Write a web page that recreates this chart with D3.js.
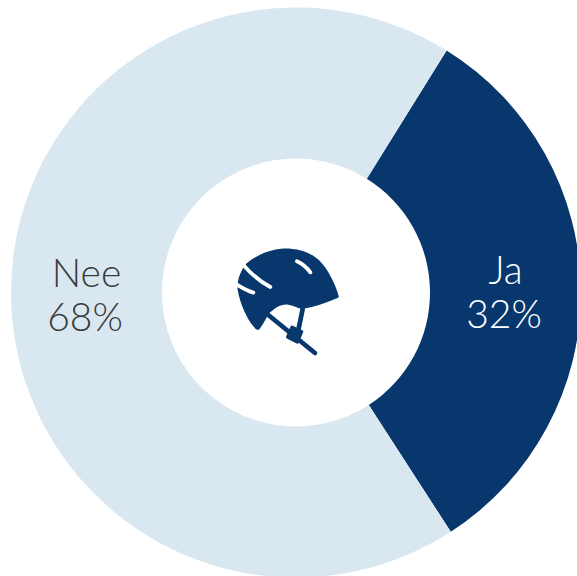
<!DOCTYPE html>
<html>
<head>
<meta charset="utf-8">
<script src="https://d3js.org/d3.v7.min.js"></script>
<style>
  html, body { margin: 0; padding: 0; background: #fff; overflow: hidden; }
  text { font-family: "Lato", sans-serif; font-weight: 300; font-size: 39px; }
</style>
</head>
<body>
<svg id="chart" width="577" height="576"></svg>
<script>
// Chart data
const categories = ["Ja", "Nee"];
const values = [32, 68];
const sliceColors = ["#07376c", "#d9e7f1"];
const labelColors = ["#ffffff", "#3a3a3a"];

const cx = 296;
const cy = 292.5;
const outerRadius = 285;
const innerRadius = 134;
const startAngle = (31.9 * Math.PI) / 180;

const svg = d3.select("#chart");
const g = svg.append("g").attr("transform", `translate(${cx},${cy})`);

const pie = d3
  .pie()
  .sort(null)
  .startAngle(startAngle)
  .endAngle(startAngle + 2 * Math.PI);

const arc = d3.arc().innerRadius(innerRadius).outerRadius(outerRadius);
const slices = pie(values);

g.selectAll("path.slice")
  .data(slices)
  .enter()
  .append("path")
  .attr("class", "slice")
  .attr("d", arc)
  .attr("fill", (d, i) => sliceColors[i]);

// Labels sit in the ring, two lines each
const labelArc = d3.arc().innerRadius(209.5).outerRadius(209.5);

const labels = g
  .selectAll("g.label")
  .data(slices)
  .enter()
  .append("g")
  .attr("class", "label")
  .attr("transform", (d) => {
    const c = labelArc.centroid(d);
    return `translate(${c[0]},${c[1]})`;
  })
  .attr("fill", (d, i) => labelColors[i])
  .attr("text-anchor", "middle");

labels.append("text").attr("y", -7).text((d, i) => categories[i]);
labels.append("text").attr("x", -1.5).attr("y", 37).text((d) => `${d.data}%`);

// Helmet icon in the middle
const icon = svg.append("g").attr("transform", "translate(220,235) scale(0.3333)");
const navy = sliceColors[0];

icon
  .append("path")
  .attr("d", "M80,85 C115,55 165,38 212,41 C262,44 300,68 325,112 C340,138 350,160 356,183 C357,188 352,190 345,192 C315,205 285,215 250,221 C235,222 225,212 205,209 C182,207 165,218 145,238 C135,258 125,275 117,284 C112,286 106,282 100,274 C80,250 60,205 53,165 C50,140 60,108 80,85 Z")
  .attr("fill", navy);

// Chin strap and buckle
icon
  .append("path")
  .attr("d", "M145,240 L285,354 M248,222 L232,300")
  .attr("fill", "none")
  .attr("stroke", navy)
  .attr("stroke-width", 14)
  .attr("stroke-linecap", "round");

icon
  .append("path")
  .attr("d", "M203,306 L216,277 L245,290 L232,321 Z")
  .attr("fill", navy)
  .attr("stroke", navy)
  .attr("stroke-width", 10)
  .attr("stroke-linejoin", "round");

// Vent highlights
icon
  .append("path")
  .attr("d", "M72,92 C95,118 120,140 151,156 M52,150 C68,160 82,168 100,173 M231,79 C246,86 260,97 271,112")
  .attr("fill", "none")
  .attr("stroke", "#fff")
  .attr("stroke-width", 11.5)
  .attr("stroke-linecap", "round");
</script>
</body>
</html>
